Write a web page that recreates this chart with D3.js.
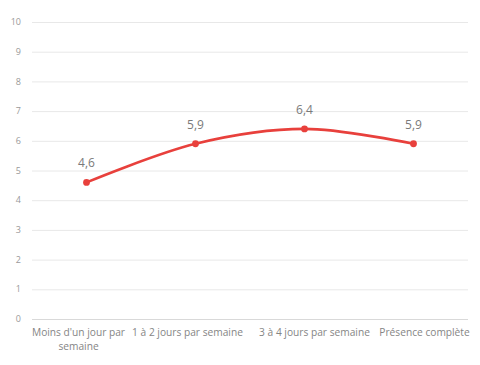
<!DOCTYPE html>
<html><head><meta charset="utf-8">
<script src="https://cdn.jsdelivr.net/npm/d3@7"></script>
<style>body{margin:0;background:#fff}svg{display:block}</style>
</head><body>
<script>
const categories = [["Moins d'un jour par","semaine"],["1 à 2 jours par semaine"],["3 à 4 jours par semaine"],["Présence complète"]];
const values = [4.6, 5.9, 6.4, 5.9];
const valueLabels = ["4,6","5,9","6,4","5,9"];
const yTicks = [0,1,2,3,4,5,6,7,8,9,10];

const W=480,H=365;
const svg=d3.select("body").append("svg").attr("width",W).attr("height",H);
const font="'Segoe UI','Open Sans',sans-serif";
const x=d3.scaleBand().domain(d3.range(categories.length)).range([32,468]);
const y=d3.scaleLinear().domain([0,10]).range([319,22]);
const labelShift=[-8,-8,10,11];

const g=svg.append("g");
g.selectAll("line.grid").data(yTicks).join("line")
 .attr("x1",32).attr("x2",468).attr("y1",d=>y(d)+0.5).attr("y2",d=>y(d)+0.5)
 .attr("stroke",d=>d===0?"#d9d9d9":"#e8e8e8").attr("stroke-width",1);
g.selectAll("text.yt").data(yTicks).join("text")
 .attr("x",21).attr("y",d=>y(d)).attr("dy","0.35em").attr("text-anchor","end")
 .attr("font-family",font).attr("font-size",9).attr("fill","#999").text(d=>d);

categories.forEach((lines,i)=>{
  const t=g.append("text").attr("text-anchor","middle").attr("font-family",font)
   .attr("font-size",10.2).attr("fill","#858585");
  lines.forEach((l,j)=>t.append("tspan").attr("x",x(i)+x.bandwidth()/2+labelShift[i]).attr("y",336+j*14).text(l));
});

const line=d3.line().x((d,i)=>x(i)+x.bandwidth()/2).y(d=>y(d)).curve(d3.curveCatmullRom.alpha(0.5));
g.append("path").datum(values).attr("d",line).attr("fill","none").attr("stroke","#e8403c").attr("stroke-width",2.6);
g.selectAll("circle").data(values).join("circle")
 .attr("cx",(d,i)=>x(i)+x.bandwidth()/2).attr("cy",d=>y(d)).attr("r",3.4).attr("fill","#e8403c");
g.selectAll("text.vl").data(values).join("text")
 .attr("x",(d,i)=>x(i)+x.bandwidth()/2).attr("y",d=>y(d)-15).attr("text-anchor","middle")
 .attr("font-family",font).attr("font-size",12).attr("fill","#7a7a7a").text((d,i)=>valueLabels[i]);
</script>
</body></html>
